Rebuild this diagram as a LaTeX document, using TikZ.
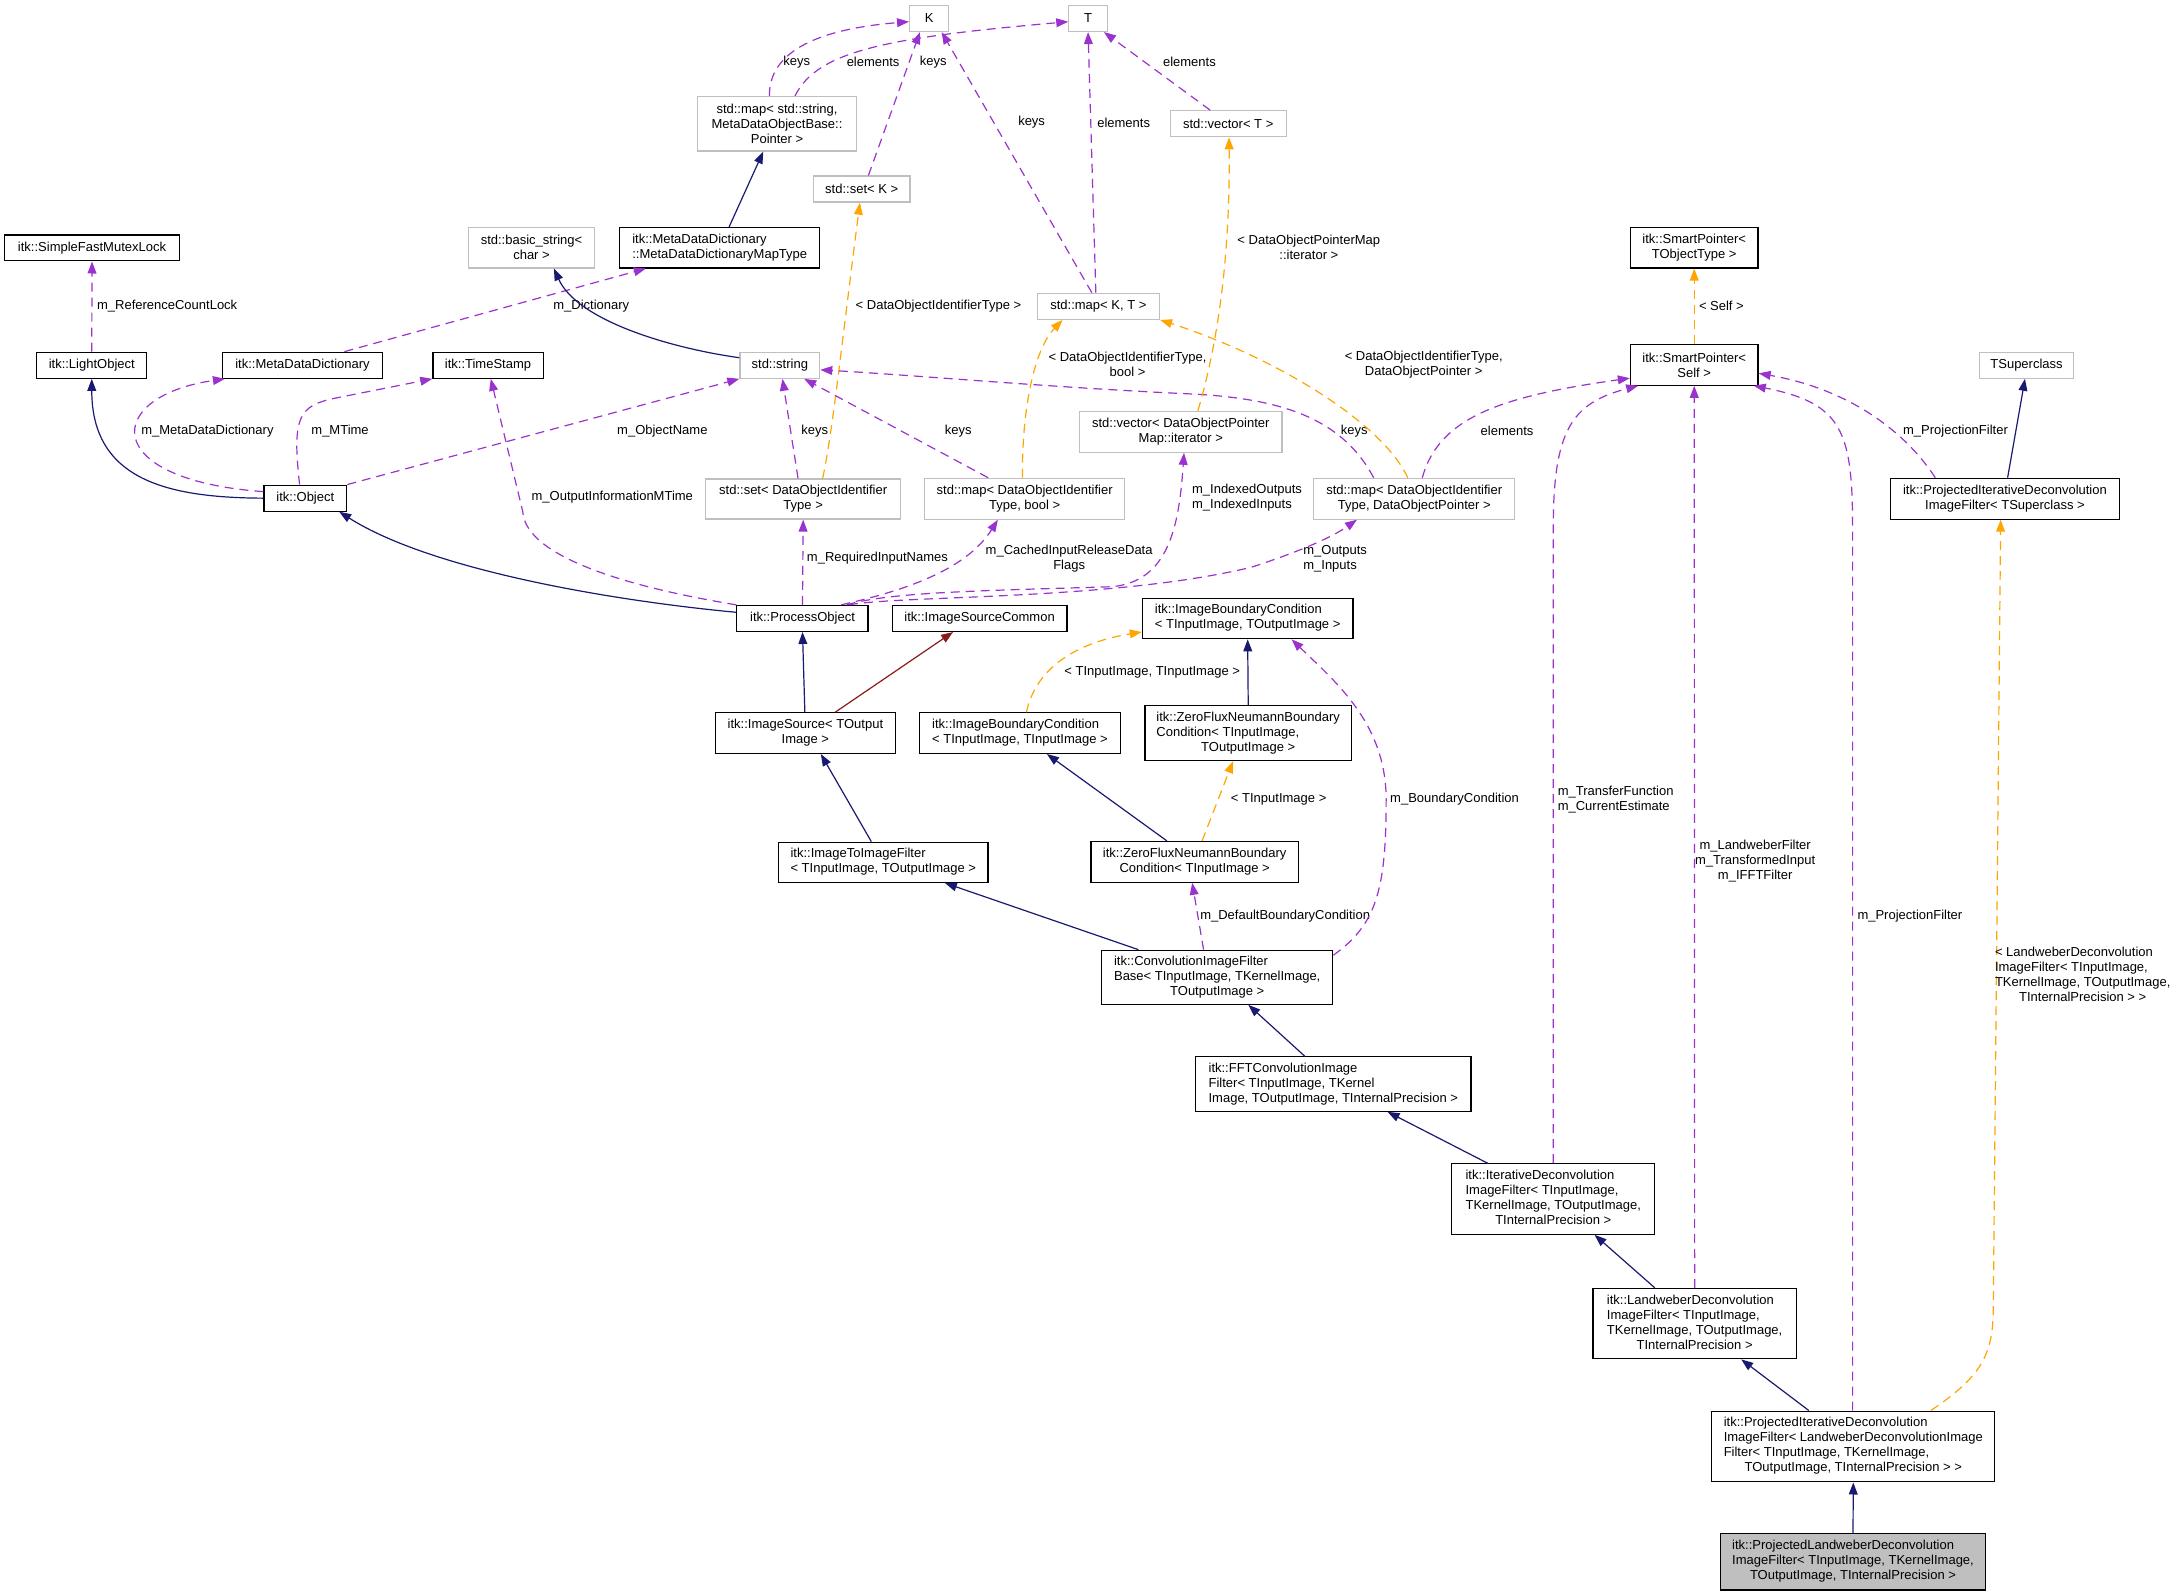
\documentclass[tikz,border=0pt]{standalone}
\usepackage{fontspec}
\setmainfont{Liberation Sans}
\usetikzlibrary{positioning, arrows.meta, calc}
\definecolor{inhblue}{HTML}{191970}
\definecolor{usepurple}{HTML}{9A32CD}
\definecolor{tplorange}{HTML}{FFA500}
\definecolor{srcred}{HTML}{8B1A1A}
\definecolor{extgray}{HTML}{BFBFBF}
\newcommand{\ltab}[1]{\begin{tabular}{@{}l@{}}#1\end{tabular}}
\newcommand{\clast}[1]{\multicolumn{1}{@{}c@{}}{#1}}

\begin{document}
\begin{tikzpicture}[x=0.6952pt, y=-0.6952pt,
            font=\fontsize{6.5}{7.5}\selectfont,
            docbox/.style={rectangle, draw=black, fill=white, line width=0.6pt, inner sep=0pt, align=center},
            extbox/.style={docbox, draw=extgray},
            focusbox/.style={docbox, fill=extgray},
            sz/.style 2 args={minimum width=#1pt, minimum height=#2pt},
            lbl/.style={inner sep=0pt, align=center, text=black},
            lbll/.style={inner sep=0pt, align=left, text=black},
            inharrow/.style={draw=inhblue, line width=0.6pt, -{Triangle[length=6pt, width=4.4pt]}},
            redarrow/.style={inharrow, draw=srcred},
            usearrow/.style={draw=usepurple, line width=0.6pt, dash pattern=on 4.5pt off 3pt, -{Triangle[length=6pt, width=4.4pt]}},
            tplarrow/.style={usearrow, draw=tplorange}
        ]
            \useasboundingbox (0,0) rectangle (1568,1145);

            % classes
            \node[extbox, sz={19.5}{13}] (keyk) at (668.3,13.3) {K};
            \node[extbox, sz={19.2}{13}] (valt) at (782.6,13.3) {T};
            \node[extbox, sz={79.5}{27.2}] (mdmap) at (558.9,89) {std::map< std::string,\\MetaDataObjectBase::\\Pointer >};
            \node[extbox, sz={58}{13}] (vect) at (883.4,89) {std::vector< T >};
            \node[extbox, sz={48.3}{13}] (setk) at (619.8,136) {std::set< K >};
            \node[docbox, sz={87.5}{13}] (mutex) at (66.2,178.3) {itk::SimpleFastMutexLock};
            \node[extbox, sz={63.1}{20.2}] (bstr) at (382.3,178.2) {std::basic\_string<\\char >};
            \node[docbox, sz={99.9}{20.2}] (mdmaptype) at (517.7,178.2) {\ltab{itk::MetaDataDictionary\\::MetaDataDictionaryMapType}};
            \node[docbox, sz={63.8}{20.2}] (sptype) at (1218.6,178.2) {itk::SmartPointer<\\TObjectType >};
            \node[extbox, sz={61.2}{13}] (mapkt) at (790,220.3) {std::map< K, T >};
            \node[docbox, sz={55.1}{13}] (light) at (66,262.7) {itk::LightObject};
            \node[docbox, sz={79.8}{13}] (mdd) at (217.6,262.7) {itk::MetaDataDictionary};
            \node[docbox, sz={55.1}{13}] (tstamp) at (351,262.7) {itk::TimeStamp};
            \node[extbox, sz={39.9}{13}] (str) at (560.9,262.7) {std::string};
            \node[docbox, sz={63.8}{20.2}] (spself) at (1218.6,262.5) {itk::SmartPointer<\\Self >};
            \node[extbox, sz={47.3}{13}] (tsuper) at (1457.6,262.7) {TSuperclass};
            \node[extbox, sz={101.2}{20.4}] (vecit) at (849.3,310.6) {std::vector< DataObjectPointer\\Map::iterator >};
            \node[docbox, sz={41.4}{13}] (obj) at (219.6,358.3) {itk::Object};
            \node[extbox, sz={97.7}{20}] (setid) at (577.7,358.9) {std::set< DataObjectIdentifier\\Type >};
            \node[extbox, sz={100.1}{20.4}] (mapbool) at (737,358.7) {std::map< DataObjectIdentifier\\Type, bool >};
            \node[extbox, sz={100.5}{20.4}] (mapdop) at (1017.2,358.7) {std::map< DataObjectIdentifier\\Type, DataObjectPointer >};
            \node[docbox, sz={114.7}{20.4}] (projsup) at (1442.1,358.7) {itk::ProjectedIterativeDeconvolution\\ImageFilter< TSuperclass >};
            \node[docbox, sz={65.6}{13}] (proc) at (577.2,444.8) {itk::ProcessObject};
            \node[docbox, sz={87.4}{13}] (srccom) at (704.6,444.8) {itk::ImageSourceCommon};
            \node[docbox, sz={105.3}{20.3}] (ibcout) at (897.4,444.8) {\ltab{itk::ImageBoundaryCondition\\< TInputImage, TOutputImage >}};
            \node[docbox, sz={90}{20.3}] (imgsrc) at (579.3,527.3) {itk::ImageSource< TOutput\\Image >};
            \node[docbox, sz={100.4}{20.3}] (ibcin) at (733.6,527.3) {\ltab{itk::ImageBoundaryCondition\\< TInputImage, TInputImage >}};
            \node[docbox, sz={103.2}{27.4}] (zfout) at (897.8,527.3) {\ltab{itk::ZeroFluxNeumannBoundary\\Condition< TInputImage,\\\clast{TOutputImage >}}};
            \node[docbox, sz={104.8}{20.1}] (i2i) at (635.3,620.2) {\ltab{itk::ImageToImageFilter\\< TInputImage, TOutputImage >}};
            \node[docbox, sz={103.7}{20.4}] (zfin) at (859.3,619.9) {itk::ZeroFluxNeumannBoundary\\Condition< TInputImage >};
            \node[docbox, sz={115.5}{27}] (convb) at (875.5,702.9) {\ltab{itk::ConvolutionImageFilter\\Base< TInputImage, TKernelImage,\\\clast{TOutputImage >}}};
            \node[docbox, sz={137.6}{27.2}] (fft) at (959,779.7) {\ltab{itk::FFTConvolutionImage\\Filter< TInputImage, TKernel\\Image, TOutputImage, TInternalPrecision >}};
            \node[docbox, sz={101.4}{35.2}] (iter) at (1117.2,862.4) {\ltab{itk::IterativeDeconvolution\\ImageFilter< TInputImage,\\TKernelImage, TOutputImage,\\\clast{TInternalPrecision >}}};
            \node[docbox, sz={101.6}{35.2}] (landw) at (1218.9,952) {\ltab{itk::LandweberDeconvolution\\ImageFilter< TInputImage,\\TKernelImage, TOutputImage,\\\clast{TInternalPrecision >}}};
            \node[docbox, sz={141.5}{35.4}] (projlw) at (1333,1040.4) {\ltab{itk::ProjectedIterativeDeconvolution\\ImageFilter< LandweberDeconvolutionImage\\Filter< TInputImage, TKernelImage,\\\clast{TOutputImage, TInternalPrecision > >}}};
            \node[focusbox, sz={132.8}{28.2}] (projlwf) at (1332.8,1123.3) {\ltab{itk::ProjectedLandweberDeconvolution\\ImageFilter< TInputImage, TKernelImage,\\\clast{TOutputImage, TInternalPrecision >}}};

            % keys and elements
            \draw[usearrow] ($(mdmap.north)+(-5.5,0)$) .. controls (553,32) and (600,20) .. ($(keyk.west)+(0,2.3)$) node[lbl] at (573,44.8) {keys};
            \draw[usearrow] ($(mdmap.north)+(12.9,0)$) .. controls (588,36) and (640,27) .. ($(valt.west)+(0,2.3)$) node[lbl] at (628,44.8) {elements};
            \draw[usearrow] ($(setk.north)+(4.8,0)$) -- ($(keyk.south)+(-6.6,0)$) node[lbl] at (671.3,44.8) {keys};
            \draw[usearrow] ($(mapkt.north)+(-4.7,0)$) -- ($(keyk.south)+(9,0)$) node[lbl] at (742,88) {keys};
            \draw[usearrow] ($(mapkt.north)+(-1.8,0)$) -- (valt.south) node[lbl] at (808.2,88) {elements};
            \draw[usearrow] ($(vect.north)+(-13,0)$) -- ($(valt.south)+(11.4,0)$) node[lbl] at (855.5,44.8) {elements};
            \draw[inharrow] ($(mdmaptype.north)+(6.7,0)$) -- ($(mdmap.south)+(-9.9,0)$);

            % object layer
            \draw[usearrow] (light.north) -- (mutex.south) node[lbll, anchor=west] at (69.4,220) {m\_ReferenceCountLock};
            \draw[usearrow] ($(mdd.north)+(30.1,0)$) -- ($(mdmaptype.south)+(-53.2,0)$) node[lbl] at (425.3,220) {m\_Dictionary};
            \draw[inharrow] ($(str.west)+(0,-5.4)$) .. controls (480,250) and (415,230) .. ($(bstr.south)+(16.1,0)$);
            \draw[inharrow] (obj.west) .. controls (120,358) and (66,345) .. (light.south);
            \draw[usearrow] ($(obj.west)+(0,-4.7)$) .. controls (70,345) and (75,285) .. ($(mdd.south west)+(2,0)$) node[lbl] at (149.2,309.8) {m\_MetaDataDictionary};
            \draw[usearrow] ($(obj.north)+(-4.1,0)$) .. controls (210,300) and (215,292) .. (240,286.6) -- (tstamp.south west) node[lbl] at (244.6,309.8) {m\_MTime};
            \draw[usearrow] (obj.north east) -- (str.south west) node[lbl] at (476.4,309.8) {m\_ObjectName};
            \draw[usearrow] (proc.north west) .. controls (450,422) and (378,400) .. (376,368) -- ($(tstamp.south)+(2,0)$) node[lbl] at (440.4,357.7) {m\_OutputInformationMTime};
            \draw[inharrow] ($(proc.west)+(0,-4.4)$) .. controls (440,432) and (310,410) .. ($(obj.south east)+(-5.8,0)$);

            % containers
            \draw[usearrow] ($(setid.north)+(-3.7,0)$) -- ($(str.south)+(1.9,0)$) node[lbl] at (586,309.8) {keys};
            \draw[tplarrow] ($(setid.north)+(14,0)$) .. controls (599,310) and (605,250) .. ($(setk.south)+(-1.3,0)$) node[lbl] at (675,220) {< DataObjectIdentifierType >};
            \draw[usearrow] ($(mapbool.north)+(-26.3,0)$) -- ($(str.south east)+(-11.6,0)$) node[lbl] at (689.3,310) {keys};
            \draw[tplarrow] ($(mapbool.north)+(-1.6,0)$) .. controls (735,290) and (745,250) .. ($(mapkt.south west)+(18.7,0)$) node[lbl] at (811,262) {< DataObjectIdentifierType,\\bool >};
            \draw[usearrow] ($(mapdop.north)+(-29.2,0)$) .. controls (965,300) and (920,287) .. (860,283.5) .. controls (760,279) and (660,270) .. ($(str.east)+(0,3.3)$) node[lbl] at (974,310) {keys};
            \draw[tplarrow] ($(mapdop.north)+(-4.7,0)$) .. controls (995,305) and (920,258) .. (mapkt.south east) node[lbl] at (1024,262) {< DataObjectIdentifierType,\\DataObjectPointer >};
            \draw[usearrow] ($(mapdop.north)+(5.8,0)$) .. controls (1035,300) and (1080,285) .. ($(spself.west)+(0,9.5)$) node[lbl] at (1084,310) {elements};
            \draw[tplarrow] ($(vecit.north)+(12.3,0)$) .. controls (872,260) and (885,200) .. ($(vect.south)+(0.6,0)$) node[lbl] at (941.4,177.7) {< DataObjectPointerMap\\::iterator >};
            \draw[tplarrow] (spself.north) -- (sptype.south) node[lbll, anchor=west] at (1221.6,220) {< Self >};
            \draw[inharrow] ($(projsup.north)+(1.9,0)$) -- ($(tsuper.south)+(-1.1,0)$);
            \draw[usearrow] ($(projsup.north)+(-50.1,0)$) .. controls (1370,310) and (1330,280) .. ($(spself.east)+(0,6)$) node[lbl] at (1406.5,310) {m\_ProjectionFilter};

            % process object
            \draw[usearrow] (proc.north) -- (setid.south) node[lbll, anchor=west] at (580,401.7) {m\_RequiredInputNames};
            \draw[usearrow] ($(proc.north)+(27.8,0)$) .. controls (650,425) and (695,410) .. ($(mapbool.south)+(-19.3,0)$) node[lbl] at (769,401.7) {m\_CachedInputReleaseData\\Flags};
            \draw[usearrow] ($(proc.north)+(31.8,0)$) .. controls (640,426) and (700,425) .. (800,422) .. controls (840,418) and (848,380) .. ($(vecit.south)+(2.3,0)$) node[lbll, anchor=west] at (857,358) {m\_IndexedOutputs\\m\_IndexedInputs};
            \draw[usearrow] ($(proc.north)+(33.5,0)$) .. controls (650,428) and (800,432) .. (900,408) .. controls (940,395) and (960,385) .. ($(mapdop.south)+(-41.2,0)$) node[lbll, anchor=west] at (937,401.7) {m\_Outputs\\m\_Inputs};
            \draw[inharrow] ($(imgsrc.north)+(-0.4,0)$) -- (proc.south);
            \draw[redarrow] ($(imgsrc.north)+(21.4,0)$) -- ($(srccom.south)+(-19.1,0)$);

            % boundary conditions
            \draw[tplarrow] ($(ibcin.north)+(4.7,0)$) .. controls (745,480) and (775,462) .. ($(ibcout.west)+(0,9.8)$) node[lbl] at (828.7,483.5) {< TInputImage, TInputImage >};
            \draw[inharrow] (zfout.north) -- (ibcout.south);
            \draw[inharrow] ($(i2i.north)+(-8.6,0)$) -- ($(imgsrc.south)+(11.1,0)$);
            \draw[inharrow] ($(zfin.north)+(-20,0)$) -- ($(ibcin.south)+(19.4,0)$);
            \draw[tplarrow] ($(zfin.north)+(5.3,0)$) -- ($(zfout.south)+(-10.9,0)$) node[lbl] at (919.7,575) {< TInputImage >};
            \draw[inharrow] ($(convb.north)+(-56.7,0)$) -- ($(i2i.south)+(44.3,0)$);
            \draw[usearrow] ($(convb.north)+(-9.8,0)$) -- ($(zfin.south)+(-1.8,0)$) node[lbl] at (924.4,659) {m\_DefaultBoundaryCondition};
            \draw[usearrow] ($(convb.north east)+(0,4)$) .. controls (990,665) and (997,640) .. (997,575) .. controls (997,520) and (960,490) .. ($(ibcout.south)+(31.6,0)$) node[lbl] at (1046.2,575) {m\_BoundaryCondition};

            % deconvolution chain
            \draw[inharrow] ($(fft.north)+(-20.5,0)$) -- ($(convb.south)+(22.4,0)$);
            \draw[inharrow] ($(iter.north)+(-47.2,0)$) -- ($(fft.south)+(39,0)$);
            \draw[usearrow] (iter.north) -- (1117.2,380) .. controls (1117.2,310) and (1130,290) .. ($(spself.south west)+(6,0)$) node[lbll, anchor=west] at (1120,575) {m\_TransferFunction\\m\_CurrentEstimate};
            \draw[usearrow] (landw.north) -- (spself.south) node[lbl] at (1262.4,619.6) {m\_LandweberFilter\\m\_TransformedInput\\m\_IFFTFilter};
            \draw[usearrow] ($(projlw.north)+(-0.5,0)$) -- (1332.5,380) .. controls (1332.5,310) and (1325,290) .. ($(spself.south east)+(-3.5,0)$) node[lbl] at (1373.7,659) {m\_ProjectionFilter};
            \draw[tplarrow] ($(projlw.north)+(55.8,0)$) .. controls (1425,990) and (1433.7,975) .. (1433.7,940) -- ($(projsup.south)+(-3.1,0)$) node[lbl] at (1498,702) {\ltab{< LandweberDeconvolution\\ImageFilter< TInputImage,\\TKernelImage, TOutputImage,\\\clast{TInternalPrecision > >}}};
            \draw[inharrow] ($(landw.north)+(-28.7,0)$) -- ($(iter.south)+(29.7,0)$);
            \draw[inharrow] ($(projlw.north)+(-32,0)$) -- ($(landw.south)+(33.5,0)$);
            \draw[inharrow] (projlwf.north) -- (projlw.south);

        \end{tikzpicture}
\end{document}
